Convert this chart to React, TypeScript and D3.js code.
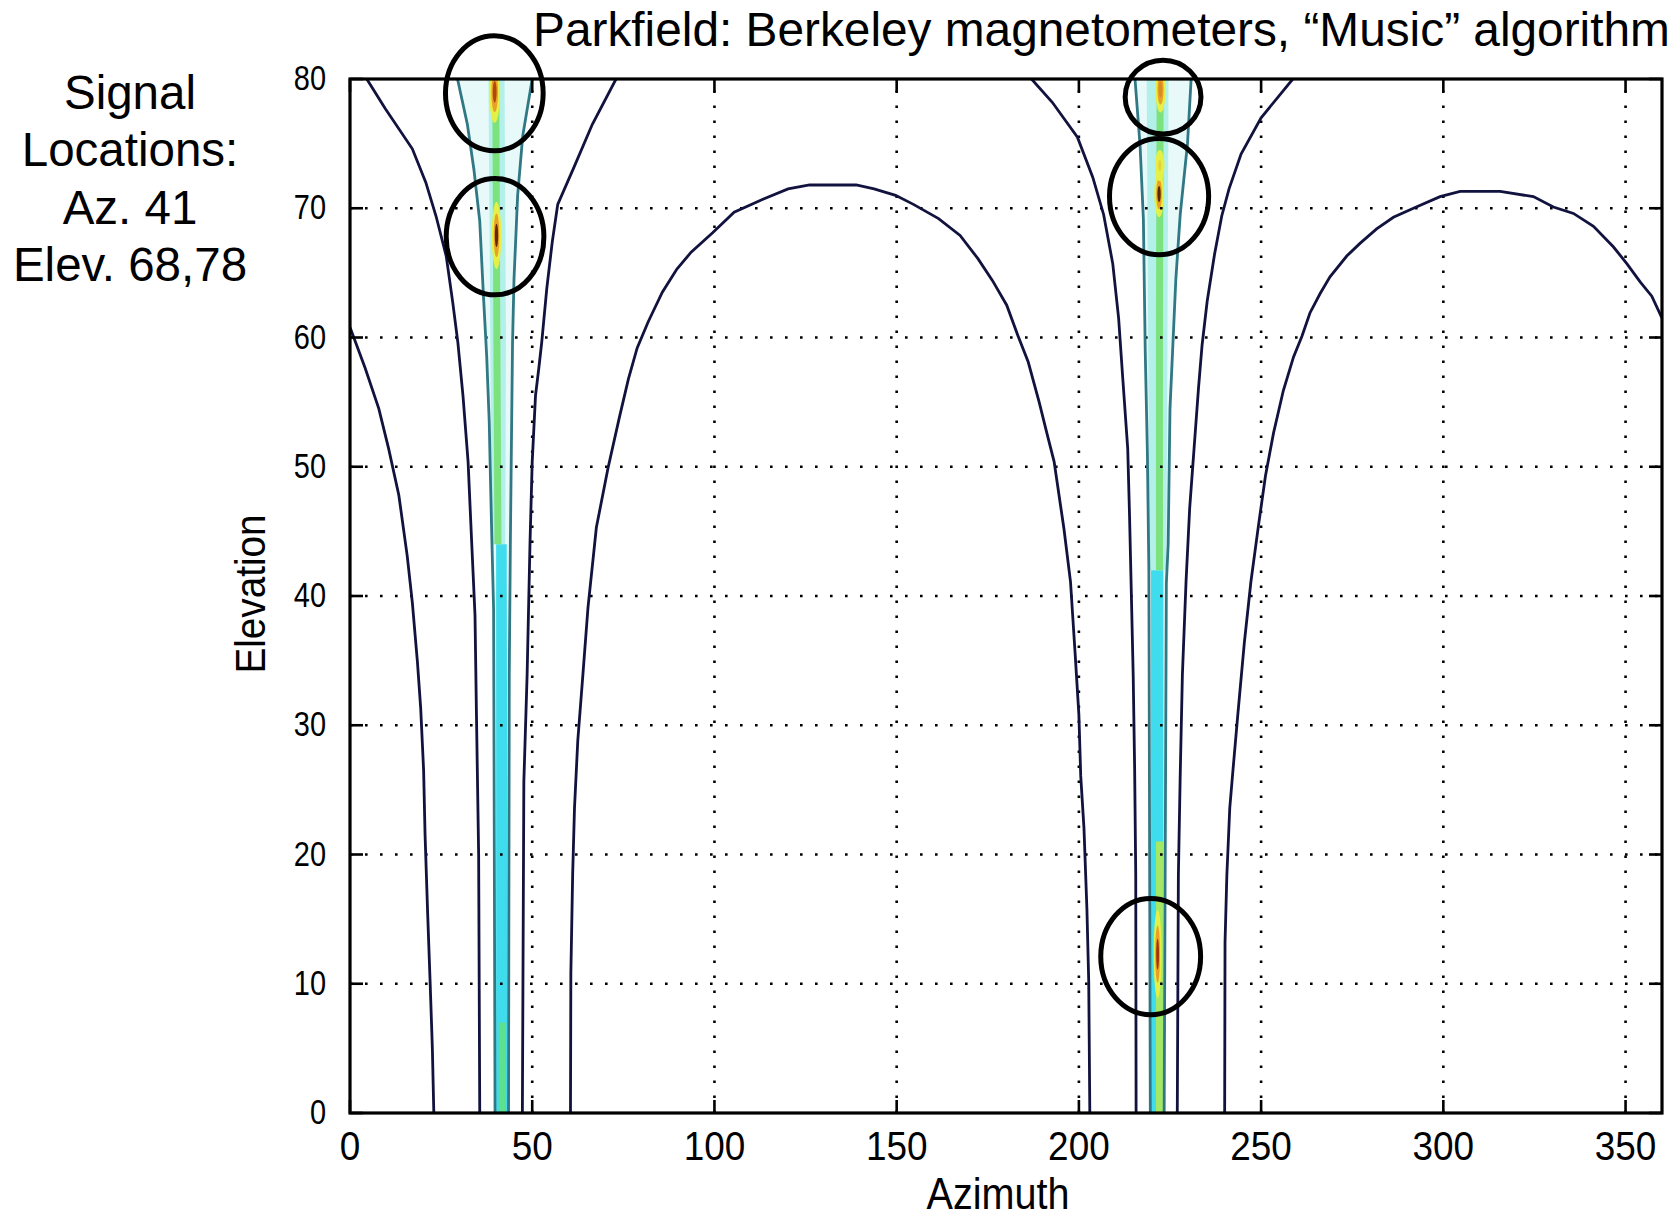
import React from 'react';
import * as d3 from 'd3';

type P = [number, number];

// ---- axis data ----
const xTicks = [0, 50, 100, 150, 200, 250, 300, 350];
const yTicks = [0, 10, 20, 30, 40, 50, 60, 70, 80];
const xDomain: P = [0, 360];
const yDomain: P = [0, 80];

// ---- low-level (navy) contour lines: [azimuth, elevation] ----
const archWrapLeft: P[] = [[0, 60.8], [4.2, 57.6], [7.9, 54.5], [10.6, 51.4], [13.4, 47.8], [15.7, 43.1], [17.1, 39.5], [18.5, 34.9], [19.4, 31.3], [20.2, 26.5], [20.6, 21.5], [21.3, 15.5], [22.0, 10], [22.6, 5], [23.0, 0]];
const funnelLeftOuterL: P[] = [[4.6, 80], [9.7, 77.7], [17.1, 74.6], [20.8, 72.0], [23.6, 69.4], [26.4, 66.3], [28.2, 62.7], [29.6, 59.6], [31.0, 55.5], [32.4, 50.4], [33.3, 44.7], [34.3, 38.5], [34.7, 30.8], [35.3, 20.0], [35.6, 0]];
const funnelLeftOuterR: P[] = [[73.0, 80], [66.5, 76.5], [61.5, 73.2], [57.0, 70.3], [55.5, 67.4], [54.0, 63.8], [52.6, 59.6], [51.8, 57.6], [50.9, 55.5], [50.0, 50.4], [49.4, 44.2], [48.6, 33.9], [47.7, 25.6], [47.3, 0]];
const archMiddle: P[] = [[60.5, 0], [60.6, 10.8], [61.1, 18.5], [61.6, 23.6], [62.5, 28.8], [63.9, 33.9], [65.3, 39.1], [67.6, 45.3], [70.8, 49.9], [73.9, 53.8], [76.4, 56.8], [78.8, 59.2], [81.8, 61.2], [85.7, 63.5], [89.7, 65.3], [93.6, 66.6], [99.5, 68.1], [105.4, 69.7], [113.3, 70.7], [120.2, 71.5], [126.1, 71.8], [138.9, 71.8], [143.8, 71.5], [149.7, 71.0], [154.6, 70.3], [161.5, 69.2], [167.4, 67.9], [172.3, 66.1], [176.3, 64.4], [180.2, 62.5], [183.2, 60.2], [186.1, 58.1], [189.1, 55.0], [191.3, 52.5], [193.2, 50.4], [195.9, 45.2], [197.7, 41.1], [199.0, 35.4], [200.0, 30.8], [200.5, 26.1], [201.4, 22.0], [202.2, 15.8], [202.7, 10.2], [203.0, 0]];
const funnelRightOuterL: P[] = [[187, 80], [192.7, 78.2], [199.6, 75.5], [203.8, 72.4], [206.8, 69.5], [209.3, 65.7], [210.9, 61.5], [212.0, 57], [213.4, 51.4], [213.9, 46.2], [214.4, 40.1], [214.9, 33.9], [215.3, 26.6], [215.6, 18.4], [215.7, 0]];
const funnelRightOuterR: P[] = [[258.7, 80], [250, 77], [244.5, 74.2], [241.2, 71.5], [239.2, 69.4], [237.2, 66.4], [235.2, 62.8], [233.8, 59.4], [232.8, 56], [231.6, 51.4], [230.4, 46.8], [229.4, 41.1], [228.4, 33.9], [227.8, 26.1], [227.3, 18.4], [227.0, 0]];
const archRight: P[] = [[240.0, 0], [240.1, 13.2], [240.6, 18.4], [241.4, 23.6], [242.3, 26.6], [243.6, 30.8], [245.4, 36.4], [247.2, 41.1], [249.3, 45.5], [251.2, 49.3], [253.4, 52.6], [256.1, 55.9], [258.9, 58.5], [261.2, 60.1], [263.4, 61.9], [266.2, 63.4], [268.9, 64.7], [273.5, 66.3], [277.2, 67.3], [281.7, 68.4], [286.3, 69.3], [291.8, 70.0], [299.1, 70.9], [304.6, 71.3], [315.6, 71.3], [324.7, 70.9], [330.2, 70.1], [335.7, 69.6], [341.2, 68.6], [346.7, 67.0], [350.4, 65.7], [354.0, 64.3], [357.2, 63.2], [360, 61.5]];

// ---- second level (teal) contour lines ----
const tealLeftL: P[] = [[29.5, 80], [32.2, 76.5], [34.0, 73], [35.6, 69], [36.6, 63.3], [37.5, 58.6], [38.2, 53.5], [38.6, 48.3], [38.9, 44.7], [39.4, 39], [39.6, 20], [39.8, 0]];
const tealLeftR: P[] = [[50, 80], [47.4, 75.6], [46.0, 71], [45.0, 64.5], [44.6, 59.6], [44.3, 52], [44, 44], [43.7, 34], [43.5, 0]];
const tealRightL: P[] = [[215.4, 80], [216.8, 74.8], [217.7, 69.1], [218.2, 59.0], [218.8, 51], [219.2, 42], [219.6, 0]];
const tealRightR: P[] = [[230.8, 80], [229.8, 75], [227.8, 69.5], [226.6, 64.5], [225.8, 59.5], [225.0, 54.5], [224.5, 44], [224.0, 41], [223.4, 0]];

// ---- higher-level bands (left edge, right edge) ----
const cyanLowLeftL: P[] = [[40.1, 0], [40.1, 44]];
const cyanLowLeftR: P[] = [[43.3, 0], [43.0, 44]];
const paleUpLeftL: P[] = [[38.9, 44], [38.5, 60], [38.0, 80]];
const paleUpLeftR: P[] = [[42.6, 44], [42.8, 60], [42.4, 80]];
const cyanLowRightL: P[] = [[219.8, 0], [219.8, 42]];
const cyanLowRightR: P[] = [[223.2, 0], [223.2, 42]];
const paleUpRightL: P[] = [[219.4, 42], [219.0, 60], [218.6, 80]];
const paleUpRightR: P[] = [[224.0, 42], [224.3, 60], [224.6, 80]];

// ---- green ridge lines ----
const greenLeftUp: P[] = [[40.6, 44], [40.3, 60], [40.0, 80]];
const greenLeftLow: P[] = [[41.8, 0], [41.8, 7]];
const greenRightUp: P[] = [[222.1, 42], [222.1, 60], [222.3, 80]];
const greenRightLow: P[] = [[222.1, 0], [222.1, 21]];

// ---- peaks: az, el, half width (az), half height (el), core colour ----
const peakAz = [39.7, 40.2, 222.4, 222.0, 222.2, 221.6];
const peakEl = [79.0, 67.9, 79.2, 71.1, 73.3, 12.3];
const peakW = [1.5, 1.3, 1.4, 1.3, 1.3, 1.1];
const peakH = [2.4, 2.6, 1.8, 1.8, 1.2, 3.4];
const peakCore = ['#b04812', '#5e2a04', '#d88a28', '#5a2804', '#e6d23c', '#a0300e'];

// ---- annotation ellipses: az, el, radius az, radius el ----
const ringAz = [39.6, 39.8, 223.1, 222.0, 219.7];
const ringEl = [78.9, 67.8, 78.6, 70.9, 12.1];
const ringRaz = [13.4, 13.4, 10.4, 13.6, 13.7];
const ringRel = [4.45, 4.5, 2.85, 4.5, 4.5];

// ---- texts ----
const titleText = 'Parkfield: Berkeley magnetometers, \u201CMusic\u201D algorithm';
const sideLines = ['Signal', 'Locations:', 'Az. 41', 'Elev. 68,78'];
const xLabel = 'Azimuth';
const yLabel = 'Elevation';

const W = 1678;
const H = 1217;
const M = { left: 350, right: 1662, top: 79, bottom: 1113 };

export default function App() {
  const x = d3.scaleLinear().domain(xDomain).range([M.left, M.right]);
  const y = d3.scaleLinear().domain(yDomain).range([M.bottom, M.top]);
  const line = d3.line<P>().x((d) => x(d[0])).y((d) => y(d[1]));
  const poly = (l: P[], r: P[]) => line([...l, ...r.slice().reverse()]) + 'Z';

  const navy = [archWrapLeft, funnelLeftOuterL, funnelLeftOuterR, archMiddle, funnelRightOuterL, funnelRightOuterR, archRight];
  const teal = [tealLeftL, tealLeftR, tealRightL, tealRightR];
  const font = "'Liberation Sans', Arial, Helvetica, sans-serif";

  return (
    <svg width={W} height={H} style={{ position: 'absolute', left: 0, top: 0, background: '#fff' }} xmlns="http://www.w3.org/2000/svg">
      <defs>
        <clipPath id="plot">
          <rect x={M.left} y={M.top} width={M.right - M.left} height={M.bottom - M.top} />
        </clipPath>
      </defs>
      <rect x={0} y={0} width={W} height={H} fill="#fff" />
      <g clipPath="url(#plot)">
        {/* pale halos between teal lines */}
        <path d={poly(tealLeftL, tealLeftR)} fill="#e8f9fa" />
        <path d={poly(tealRightL, tealRightR)} fill="#e8f9fa" />
        {/* bands */}
        <path d={poly(paleUpLeftL, paleUpLeftR)} fill="#b4f0ea" />
        <path d={poly(paleUpRightL, paleUpRightR)} fill="#b4f0ea" />
        <path d={poly(cyanLowLeftL, cyanLowLeftR)} fill="#3edcec" />
        <path d={poly(cyanLowRightL, cyanLowRightR)} fill="#3edcec" />
        {/* green ridges */}
        {[greenLeftUp, greenRightUp].map((g, i) => (
          <path key={'gu' + i} d={line(g) || ''} fill="none" stroke="#7ce27e" strokeWidth={7} />
        ))}
        <path d={line(greenLeftLow) || ''} fill="none" stroke="#5ee08c" strokeWidth={7} />
        <path d={line(greenRightLow) || ''} fill="none" stroke="#a6e864" strokeWidth={7} />
        {/* peaks */}
        {peakAz.map((az, i) => {
          const cx = x(az);
          const cy = y(peakEl[i]);
          const rx = x(az + peakW[i]) - cx;
          const ry = y(peakEl[i]) - y(peakEl[i] + peakH[i]);
          return (
            <g key={'pk' + i}>
              <ellipse cx={cx} cy={cy} rx={rx} ry={ry} fill="#e4f046" />
              {i !== 4 && <ellipse cx={cx} cy={cy} rx={rx * 0.6} ry={ry * 0.65} fill="#eaa026" />}
              <ellipse cx={cx} cy={cy} rx={rx * 0.35} ry={ry * 0.35} fill={peakCore[i]} />
            </g>
          );
        })}
        {/* grid */}
        {xTicks.filter((t) => t > xDomain[0] && t < xDomain[1]).map((t) => (
          <line key={'gx' + t} x1={x(t)} x2={x(t)} y1={M.bottom} y2={M.top} stroke="#000" strokeWidth={2.6} strokeDasharray="2.6,12.4" />
        ))}
        {yTicks.filter((t) => t > yDomain[0] && t < yDomain[1]).map((t) => (
          <line key={'gy' + t} x1={M.left} x2={M.right} y1={y(t)} y2={y(t)} stroke="#000" strokeWidth={2.6} strokeDasharray="2.6,12.4" />
        ))}
        {/* teal contours */}
        {teal.map((c, i) => (
          <path key={'t' + i} d={line(c) || ''} fill="none" stroke="#2f7884" strokeWidth={2.8} />
        ))}
        {/* navy contours */}
        {navy.map((c, i) => (
          <path key={'n' + i} d={line(c) || ''} fill="none" stroke="#12123e" strokeWidth={2.8} />
        ))}
      </g>
      {/* ticks */}
      {xTicks.map((t) => (
        <g key={'tx' + t}>
          <line x1={x(t)} x2={x(t)} y1={M.bottom} y2={M.bottom - 13} stroke="#000" strokeWidth={2.6} />
          <line x1={x(t)} x2={x(t)} y1={M.top} y2={M.top + 13} stroke="#000" strokeWidth={2.6} />
        </g>
      ))}
      {yTicks.map((t) => (
        <g key={'ty' + t}>
          <line x1={M.left} x2={M.left + 13} y1={y(t)} y2={y(t)} stroke="#000" strokeWidth={2.6} />
          <line x1={M.right} x2={M.right - 13} y1={y(t)} y2={y(t)} stroke="#000" strokeWidth={2.6} />
        </g>
      ))}
      {/* frame */}
      <rect x={M.left} y={M.top} width={M.right - M.left} height={M.bottom - M.top} fill="none" stroke="#000" strokeWidth={3.2} />
      {/* tick labels */}
      {xTicks.map((t) => (
        <text key={'lx' + t} transform={`translate(${x(t)},1160) scale(0.9,1)`} textAnchor="middle" fontFamily={font} fontSize={41} fill="#000">
          {t}
        </text>
      ))}
      {yTicks.map((t) => (
        <text key={'ly' + t} transform={`translate(326,${y(t) + 11}) scale(0.84,1)`} textAnchor="end" fontFamily={font} fontSize={34.5} fill="#000">
          {t}
        </text>
      ))}
      {/* axis labels */}
      <text transform="translate(998,1209) scale(0.9,1)" textAnchor="middle" fontFamily={font} fontSize={44} fill="#000">
        {xLabel}
      </text>
      <text transform="translate(265,594) rotate(-90) scale(0.9,1)" textAnchor="middle" fontFamily={font} fontSize={43} fill="#000">
        {yLabel}
      </text>
      {/* annotation rings */}
      {ringAz.map((az, i) => (
        <ellipse key={'r' + i} cx={x(az)} cy={y(ringEl[i])} rx={x(az + ringRaz[i]) - x(az)} ry={y(ringEl[i]) - y(ringEl[i] + ringRel[i])} fill="none" stroke="#000" strokeWidth={5} />
      ))}
      {/* title */}
      <text x={533} y={46} fontFamily={font} fontSize={47.8} fill="#000">
        {titleText}
      </text>
      {/* side note */}
      {sideLines.map((s, i) => (
        <text key={'s' + i} x={130} y={109 + i * 57.3} textAnchor="middle" fontFamily={font} fontSize={47.5} fill="#000">
          {s}
        </text>
      ))}
    </svg>
  );
}
